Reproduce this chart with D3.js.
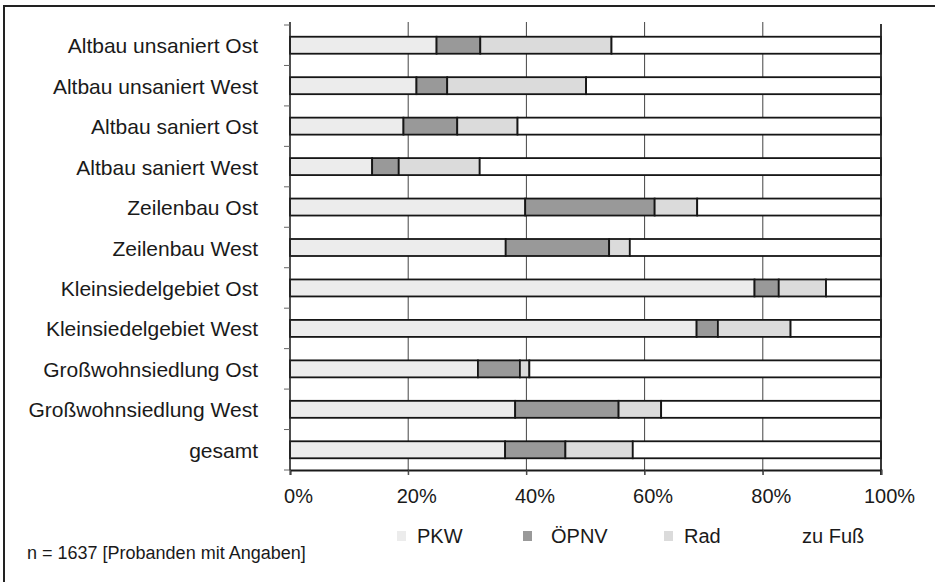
<!DOCTYPE html>
<html>
<head>
<meta charset="utf-8">
<script src="https://cdn.jsdelivr.net/npm/d3@7"></script>
<style>
  html, body { margin: 0; padding: 0; background: #fff; }
  svg { display: block; font-family: "Liberation Sans", Arial, sans-serif; }
</style>
</head>
<body>
<svg id="chart" width="935" height="582"></svg>
<script>
// Wohnlagen (rows, top to bottom)
const categories = [
  "Altbau unsaniert Ost",
  "Altbau unsaniert West",
  "Altbau saniert Ost",
  "Altbau saniert West",
  "Zeilenbau Ost",
  "Zeilenbau West",
  "Kleinsiedelgebiet Ost",
  "Kleinsiedelgebiet West",
  "Großwohnsiedlung Ost",
  "Großwohnsiedlung West",
  "gesamt"
];

// Verkehrsmittelanteile in Prozent
const pkw    = [24.8, 21.4, 19.2, 13.9, 39.8, 36.5, 78.6, 68.8, 31.8, 38.1, 36.4];
const oepnv  = [ 7.4,  5.2,  9.1,  4.5, 21.9, 17.5,  4.1,  3.6,  7.1, 17.5, 10.2];
const rad    = [22.2, 23.5, 10.2, 13.7,  7.2,  3.5,  8.0, 12.3,  1.6,  7.2, 11.4];
const zuFuss = [45.6, 49.9, 61.5, 67.9, 31.1, 42.5,  9.3, 15.3, 59.5, 37.2, 42.0];

const seriesNames = ["PKW", "ÖPNV", "Rad", "zu Fuß"];
const tickValues = [0, 20, 40, 60, 80, 100];
const footnote = "n = 1637 [Probanden mit Angaben]";

const colors = {
  "PKW": "#ececec",
  "ÖPNV": "#999999",
  "Rad": "#dbdbdb",
  "zu Fuß": "#ffffff"
};

const rows = categories.map((c, i) => ({
  category: c,
  "PKW": pkw[i],
  "ÖPNV": oepnv[i],
  "Rad": rad[i],
  "zu Fuß": zuFuss[i]
}));

const svg = d3.select("#chart");

const plot = { left: 290, right: 881, top: 25, bottom: 470 };

const x = d3.scaleLinear().domain([0, 100]).range([plot.left, plot.right]);
const y = d3.scaleBand().domain(categories).range([plot.top, plot.bottom])
  .paddingInner(0.58).paddingOuter(0.29);
const rowBand = d3.scaleBand().domain(categories).range([plot.top, plot.bottom]).padding(0);

// outer frame
svg.append("path")
  .attr("d", "M4,582 V6 H935")
  .attr("fill", "none")
  .attr("stroke", "#222")
  .attr("stroke-width", 2);

// vertical gridlines
svg.append("g")
  .selectAll("line")
  .data(tickValues.filter(v => v > 0 && v < 100))
  .join("line")
  .attr("x1", d => x(d)).attr("x2", d => x(d))
  .attr("y1", plot.top - 3).attr("y2", plot.bottom + 5)
  .attr("stroke", "#444")
  .attr("stroke-width", 1);

// bars
const stack = d3.stack().keys(seriesNames)(rows);
svg.append("g")
  .selectAll("g")
  .data(stack)
  .join("g")
  .attr("fill", d => colors[d.key])
  .selectAll("rect")
  .data(d => d)
  .join("rect")
  .attr("x", d => x(d[0]))
  .attr("width", d => x(d[1]) - x(d[0]))
  .attr("y", d => y(d.data.category))
  .attr("height", y.bandwidth())
  .attr("stroke", "#161616")
  .attr("stroke-width", 1.8);

// y axis line and ticks at row boundaries
svg.append("line")
  .attr("x1", plot.left).attr("x2", plot.left)
  .attr("y1", plot.top - 3).attr("y2", plot.bottom)
  .attr("stroke", "#222").attr("stroke-width", 1.6);
const rowEdges = categories.map(c => rowBand(c)).concat([plot.bottom]);
svg.append("g")
  .selectAll("line")
  .data(rowEdges)
  .join("line")
  .attr("x1", plot.left - 6).attr("x2", plot.left)
  .attr("y1", d => d).attr("y2", d => d)
  .attr("stroke", "#666").attr("stroke-width", 1);

// right border at 100 %
svg.append("line")
  .attr("x1", x(100)).attr("x2", x(100))
  .attr("y1", plot.top - 1).attr("y2", plot.bottom + 5)
  .attr("stroke", "#222").attr("stroke-width", 1.8);

// x axis
const xAxis = d3.axisBottom(x)
  .tickValues(tickValues)
  .tickFormat(d => d + "%")
  .tickSize(5)
  .tickPadding(8);
const gx = svg.append("g")
  .attr("transform", `translate(0,${plot.bottom})`)
  .call(xAxis);
gx.select(".domain").attr("stroke", "#1a1a1a").attr("stroke-width", 2);
gx.selectAll(".tick line").attr("stroke", "#444");
gx.selectAll(".tick text")
  .attr("font-size", 20)
  .attr("fill", "#1a1a1a")
  .attr("font-family", "Liberation Sans, Arial, sans-serif")
  .attr("dx", 8)
  .attr("y", 19);

// category labels
svg.append("g")
  .selectAll("text")
  .data(categories)
  .join("text")
  .attr("x", 258)
  .attr("y", d => y(d) + y.bandwidth() / 2 + 8)
  .attr("text-anchor", "end")
  .attr("font-size", 21)
  .attr("fill", "#1a1a1a")
  .text(d => d);

// legend
const legendX = { "PKW": 397, "ÖPNV": 523, "Rad": 664, "zu Fuß": 781 };
const legend = svg.append("g")
  .selectAll("g")
  .data(seriesNames)
  .join("g")
  .attr("transform", d => `translate(${legendX[d]},536)`);
legend.append("rect")
  .attr("x", 0).attr("y", -5)
  .attr("width", 9).attr("height", 10)
  .attr("fill", d => colors[d]);
legend.append("text")
  .attr("x", d => d === "ÖPNV" ? 28 : (d === "zu Fuß" ? 21 : 20))
  .attr("y", 7)
  .attr("font-size", 20)
  .attr("fill", "#1a1a1a")
  .text(d => d);

// footnote
svg.append("text")
  .attr("x", 27)
  .attr("y", 559)
  .attr("font-size", 18)
  .attr("fill", "#1a1a1a")
  .text(footnote);
</script>
</body>
</html>
